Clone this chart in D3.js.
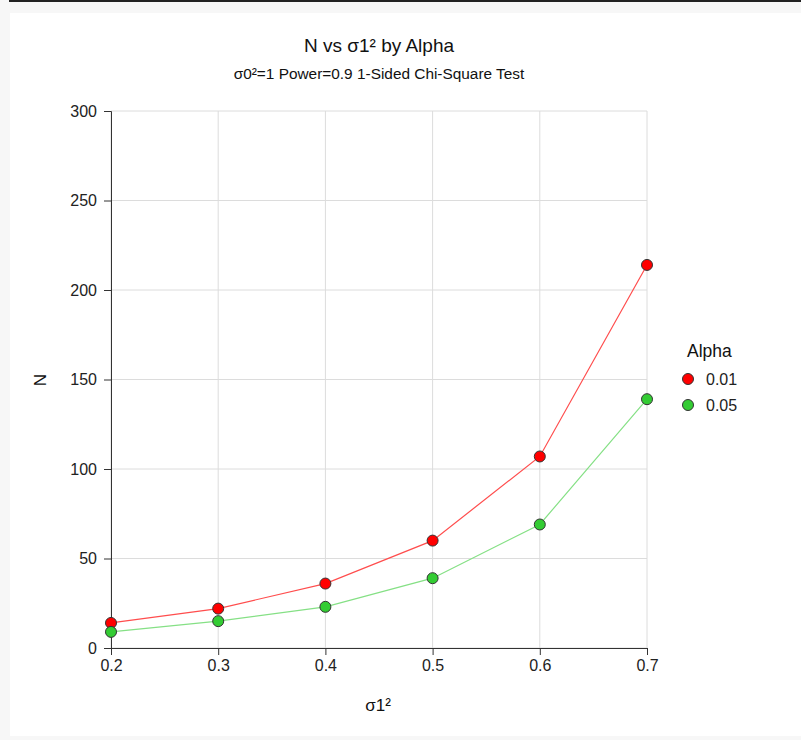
<!DOCTYPE html>
<html>
<head>
<meta charset="utf-8">
<script src="https://cdn.jsdelivr.net/npm/d3@7"></script>
<style>
	body { margin: 0; background: #f7f7f7; }
	svg { display: block; font-family: "Liberation Sans", Arial, sans-serif; }
	.grid line { stroke: #dcdcdc; }
	.axis path, .axis line { stroke: #333; }
</style>
</head>
<body>
<div id="chart"></div>
<script>
const sigma1 = [0.2, 0.3, 0.4, 0.5, 0.6, 0.7];
const alphas = ['0.01', '0.05'];
const nAlpha001 = [14, 22, 36, 60, 107, 214];
const nAlpha005 = [9, 15, 23, 39, 69, 139];
const yTicks = [0, 50, 100, 150, 200, 250, 300];

const series = [
	{ name: alphas[0], values: nAlpha001, fill: '#ff0000', line: '#ff4d4d' },
	{ name: alphas[1], values: nAlpha005, fill: '#33cc33', line: '#85e085' }
];

const width = 801, height = 740;
const margin = { top: 111, right: 154, bottom: 92, left: 111 };

const svg = d3.select('#chart').append('svg')
	.attr('width', width).attr('height', height);

// page frame
svg.append('rect').attr('width', width).attr('height', height).attr('fill', '#f7f7f7');
svg.append('rect').attr('x', 9).attr('y', 0).attr('width', width - 9).attr('height', 2).attr('fill', '#222');
svg.append('rect').attr('x', 10).attr('y', 13).attr('width', width - 10).attr('height', 723).attr('fill', '#fff');

const x = d3.scaleLinear().domain([0.2, 0.7]).range([margin.left, width - margin.right]);
const y = d3.scaleLinear().domain([0, 300]).range([height - margin.bottom, margin.top]);

// gridlines
svg.append('g').attr('class', 'grid')
	.selectAll('line.v').data(sigma1).join('line')
	.attr('x1', d => x(d)).attr('x2', d => x(d))
	.attr('y1', y(300)).attr('y2', y(0));
svg.append('g').attr('class', 'grid')
	.selectAll('line.h').data(yTicks).join('line')
	.attr('x1', x(0.2)).attr('x2', x(0.7))
	.attr('y1', d => y(d)).attr('y2', d => y(d));

const styleTicks = g => g.selectAll('text')
	.style('font-size', '16px')
	.style('font-family', '"Liberation Sans", Arial, sans-serif')
	.attr('fill', '#222');

svg.append('g').attr('class', 'axis')
	.attr('transform', `translate(0, ${y(0)})`)
	.call(d3.axisBottom(x).tickValues(sigma1).tickFormat(d3.format('.1f')).tickSizeOuter(0).tickSize(7).tickPadding(5))
	.call(styleTicks);

svg.append('g').attr('class', 'axis')
	.attr('transform', `translate(${x(0.2)}, 0)`)
	.call(d3.axisLeft(y).tickValues(yTicks).tickSizeOuter(0).tickSize(7).tickPadding(7))
	.call(styleTicks);

// titles
svg.append('text').attr('x', 379).attr('y', 52).attr('text-anchor', 'middle')
	.attr('font-size', 19).attr('fill', '#111').text('N vs σ1² by Alpha');
svg.append('text').attr('x', 379).attr('y', 79).attr('text-anchor', 'middle')
	.attr('font-size', 15.4).attr('fill', '#111').text('σ0²=1 Power=0.9 1-Sided Chi-Square Test');
svg.append('text').attr('x', 378).attr('y', 711).attr('text-anchor', 'middle')
	.attr('font-size', 17).attr('fill', '#111').text('σ1²');
svg.append('text').attr('transform', 'translate(46, 380) rotate(-90)').attr('text-anchor', 'middle')
	.attr('font-size', 17).attr('fill', '#111').text('N');

const line = d3.line().x((d, i) => x(sigma1[i])).y(d => y(d));

series.forEach(s => {
	svg.append('path').attr('d', line(s.values))
		.attr('fill', 'none').attr('stroke', s.line).attr('stroke-width', 1.2);
	svg.append('g').selectAll('circle').data(s.values).join('circle')
		.attr('cx', (d, i) => x(sigma1[i])).attr('cy', d => y(d)).attr('r', 5.5)
		.attr('fill', s.fill).attr('stroke', '#333').attr('stroke-width', 1);
});

// legend
const legend = svg.append('g').attr('transform', 'translate(687, 0)');
legend.append('text').attr('x', 0).attr('y', 357).attr('font-size', 17.5).attr('fill', '#111').text('Alpha');
legend.selectAll('g.item').data(series).join('g')
	.attr('transform', (d, i) => `translate(0, ${379 + i * 26})`)
	.call(g => {
		g.append('circle').attr('cx', 1).attr('r', 5.5)
			.attr('fill', d => d.fill).attr('stroke', '#333');
		g.append('text').attr('x', 19).attr('y', 5.5).attr('font-size', 16).attr('fill', '#222').text(d => d.name);
	});
</script>
</body>
</html>
